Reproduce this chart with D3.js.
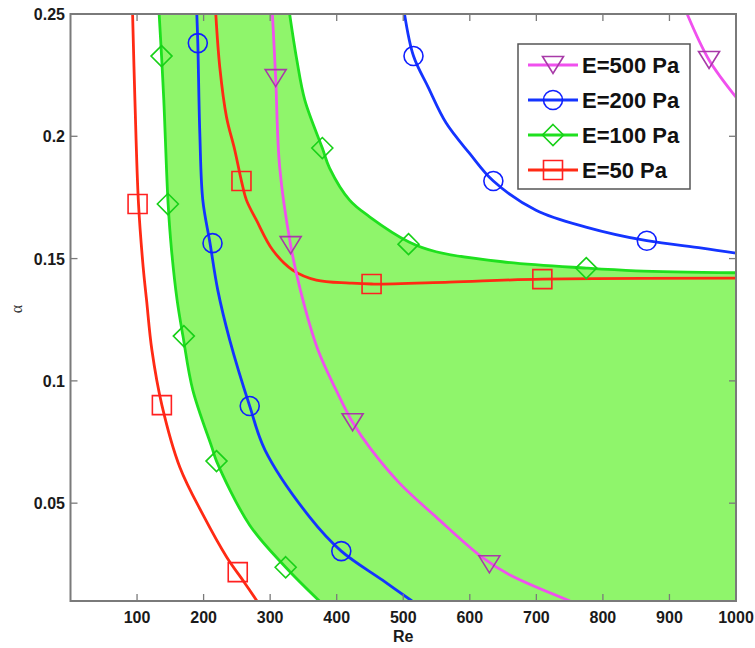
<!DOCTYPE html>
<html><head><meta charset="utf-8">
<script src="https://cdn.jsdelivr.net/npm/d3@7/dist/d3.min.js"></script>
<style>body{margin:0;background:#fff}svg{display:block}</style>
</head><body>
<script>
// ---- data ----
const reTicks = [100,200,300,400,500,600,700,800,900,1000];
const alphaTicks = [0.05,0.1,0.15,0.2,0.25];
const seriesNames = ["E=500 Pa","E=200 Pa","E=100 Pa","E=50 Pa"];

// E=50 Pa (two branches)
const e50A = [[93.3,0.25],[96.8,0.2148],[102.2,0.1723],[109.2,0.1465],[114.3,0.133],[122.3,0.1126],[137.3,0.0901],[164.3,0.0647],[199.2,0.0452],[234.8,0.0279],[260.7,0.0178],[280.2,0.01]];
const e50B = [[218.3,0.25],[224.3,0.2283],[234.4,0.2079],[246.8,0.1944],[256.9,0.1817],[264.4,0.1739],[279.4,0.1657],[303.8,0.1535],[333.8,0.1453],[369.4,0.1412],[419.4,0.14],[452.4,0.1396],[569.3,0.1404],[709,0.1416],[1000,0.142]];
// E=100 Pa
const e100A = [[133.2,0.25],[136.8,0.2328],[140.2,0.2148],[146.7,0.1723],[151.8,0.1535],[160.2,0.133],[169,0.1183],[183.8,0.0962],[212.3,0.0729],[219.4,0.0672],[269.3,0.041],[323.3,0.0238],[374.3,0.0099]];
const e100B = [[329.3,0.25],[340.1,0.2312],[352.1,0.2148],[378.4,0.1952],[389.3,0.187],[419.4,0.1739],[449.4,0.1671],[508.6,0.1568],[549.4,0.1528],[648.9,0.1487],[775,0.1461],[849.5,0.145],[1000,0.1442]];
// E=200 Pa
const e200A = [[189.8,0.25],[191.3,0.2381],[194.3,0.2013],[198.8,0.1739],[209.6,0.1564],[221.3,0.1371],[239.3,0.1167],[269.3,0.0897],[292.3,0.0717],[359.4,0.0443],[406.9,0.0304],[468.9,0.0185],[513.1,0.01]];
const e200B = [[501.9,0.25],[515.4,0.2328],[537.2,0.2202],[564.5,0.2054],[599.4,0.1931],[635.4,0.1817],[699.5,0.1698],[774.5,0.1629],[866,0.1573],[949,0.1543],[1000,0.1522]];
// E=500 Pa
const e500A = [[303.4,0.25],[308.3,0.2238],[314.3,0.1874],[330.8,0.1555],[345.4,0.1371],[371.9,0.1126],[400.5,0.0955],[423.9,0.0831],[450,0.0726],[494.4,0.0582],[549.5,0.0443],[619.8,0.0276],[660.4,0.0206],[750.6,0.01]];
const e500B = [[926.6,0.25],[959.5,0.2312],[1000,0.216]];

// markers
const m500 = [[308.3,0.2238],[330.8,0.1555],[423.9,0.0831],[629.4,0.025],[959.5,0.2312]];
const m200 = [[191.3,0.2381],[213.4,0.1563],[269.3,0.0897],[406.9,0.0304],[515.4,0.2328],[635.4,0.1817],[866,0.1573]];
const m100 = [[136.8,0.2328],[146.3,0.1723],[170.3,0.1183],[219.4,0.0672],[323.3,0.0238],[378.4,0.1952],[507.9,0.1559],[775,0.1461]];
const m50 = [[100.8,0.1723],[137.3,0.0901],[251.3,0.0218],[256.9,0.1817],[452.4,0.1396],[709,0.1416]];

// ---- layout ----
const W = 755, H = 648;
const L = 70.5, R = 736, T = 14, B = 601;
const x = d3.scaleLinear().domain([0,1000]).range([L,R]);
const y = d3.scaleLinear().domain([0.01,0.25]).range([B,T]);

const svg = d3.select("body").append("svg").attr("width",W).attr("height",H);
svg.append("defs").append("clipPath").attr("id","clip")
  .append("rect").attr("x",L).attr("y",T).attr("width",R-L).attr("height",B-T);

const plot = svg.append("g").attr("clip-path","url(#clip)");

const lineGen = d3.line().x(d=>x(d[0])).y(d=>y(d[1])).curve(d3.curveCatmullRom.alpha(0.5));
// green fill region between the two E=100 branches
const leftPath = lineGen(e100A);
const rightPath = lineGen(e100B.slice().reverse());
plot.append("path")
  .attr("d", leftPath + "L" + x(1000) + "," + y(0.005) + "L" + x(1000) + "," + y(e100B[e100B.length-1][1]) + "L" + rightPath.slice(1) + "Z")
  .attr("fill","#8ff56b").attr("stroke","none");

const colors = {e50:"#ff2a14", e100:"#1fe01f", e200:"#1434ff", e500:"#f050ee"};
function drawLine(data,color){
  plot.append("path").attr("d",lineGen(data)).attr("fill","none")
    .attr("stroke",color).attr("stroke-width",2.8).attr("stroke-linejoin","round");
}
drawLine(e50A,colors.e50); drawLine(e50B,colors.e50);
drawLine(e100A,colors.e100); drawLine(e100B,colors.e100);
drawLine(e200A,colors.e200); drawLine(e200B,colors.e200);
drawLine(e500A,colors.e500); drawLine(e500B,colors.e500);

// marker shapes
function markerPath(type,cx,cy){
  if(type==="square"){const s=9.5;return `M${cx-s},${cy-s}H${cx+s}V${cy+s}H${cx-s}Z`;}
  if(type==="diamond"){const s=10.5;return `M${cx},${cy-s}L${cx+s},${cy}L${cx},${cy+s}L${cx-s},${cy}Z`;}
  if(type==="tri"){const w=10.5,h=8.5;return `M${cx-w},${cy-h}L${cx+w},${cy-h}L${cx},${cy+h}Z`;}
  return null;
}
function drawMarkers(g,data,type,color){
  data.forEach(d=>{
    const cx=x(d[0]), cy=y(d[1]);
    if(type==="circle") g.append("circle").attr("cx",cx).attr("cy",cy).attr("r",9.5)
      .attr("fill","none").attr("stroke",color).attr("stroke-width",1.6);
    else g.append("path").attr("d",markerPath(type,cx,cy)).attr("fill","none")
      .attr("stroke",color).attr("stroke-width",1.6);
  });
}
drawMarkers(plot,m50,"square","#ff2020");
drawMarkers(plot,m100,"diamond","#18d018");
drawMarkers(plot,m200,"circle","#1020ff");
drawMarkers(plot,m500,"tri","#a83aa8");

// ---- axes ----
const axisColor = "#7a7a7a";
const ax = svg.append("g");
ax.append("rect").attr("x",L).attr("y",T).attr("width",R-L).attr("height",B-T)
  .attr("fill","none").attr("stroke",axisColor).attr("stroke-width",2);
reTicks.forEach(t=>{
  ax.append("line").attr("x1",x(t)).attr("x2",x(t)).attr("y1",B).attr("y2",B-7).attr("stroke",axisColor).attr("stroke-width",1.3);
  ax.append("line").attr("x1",x(t)).attr("x2",x(t)).attr("y1",T).attr("y2",T+7).attr("stroke",axisColor).attr("stroke-width",1.3);
  ax.append("text").attr("x",x(t)).attr("y",623).attr("text-anchor","middle")
    .attr("font-family","Liberation Sans, Arial, sans-serif").attr("font-weight","bold")
    .attr("font-size",16).attr("fill","#1a1a1a").text(t);
});
alphaTicks.forEach(t=>{
  ax.append("line").attr("x1",L).attr("x2",L+7).attr("y1",y(t)).attr("y2",y(t)).attr("stroke",axisColor).attr("stroke-width",1.3);
  ax.append("line").attr("x1",R).attr("x2",R-7).attr("y1",y(t)).attr("y2",y(t)).attr("stroke",axisColor).attr("stroke-width",1.3);
  ax.append("text").attr("x",65).attr("y",y(t)+6).attr("text-anchor","end")
    .attr("font-family","Liberation Sans, Arial, sans-serif").attr("font-weight","bold")
    .attr("font-size",16).attr("fill","#1a1a1a").text(String(t));
});
svg.append("text").attr("x",(L+R)/2).attr("y",642).attr("text-anchor","middle")
  .attr("font-family","Liberation Sans, Arial, sans-serif").attr("font-weight","bold")
  .attr("font-size",16).attr("fill","#1a1a1a").text("Re");
svg.append("text").attr("transform","translate(22,309) rotate(-90)").attr("text-anchor","middle")
  .attr("font-family","Liberation Serif, Times New Roman, serif")
  .attr("font-size",16).attr("fill","#333").text("α");

// ---- legend ----
const leg = svg.append("g");
leg.append("rect").attr("x",518).attr("y",44).attr("width",172).attr("height",145)
  .attr("fill","#fff").attr("stroke","#555").attr("stroke-width",1.5);
const legColors = [colors.e500,colors.e200,colors.e100,colors.e50];
const legMk = [["tri","#a83aa8"],["circle","#1020ff"],["diamond","#18d018"],["square","#ff2020"]];
seriesNames.forEach((name,i)=>{
  const ry = 65 + i*35;
  leg.append("line").attr("x1",528).attr("x2",578).attr("y1",ry).attr("y2",ry)
    .attr("stroke",legColors[i]).attr("stroke-width",2.8);
  const mg = leg.append("g");
  if(legMk[i][0]==="circle") mg.append("circle").attr("cx",553).attr("cy",ry).attr("r",9.5)
    .attr("fill","none").attr("stroke",legMk[i][1]).attr("stroke-width",1.6);
  else mg.append("path").attr("d",markerPath(legMk[i][0],553,ry)).attr("fill","none")
    .attr("stroke",legMk[i][1]).attr("stroke-width",1.6);
  leg.append("text").attr("x",582).attr("y",ry+8)
    .attr("font-family","Liberation Sans, Arial, sans-serif").attr("font-weight","bold")
    .attr("font-size",22).attr("fill","#111").text(name);
});
</script>
</body></html>
